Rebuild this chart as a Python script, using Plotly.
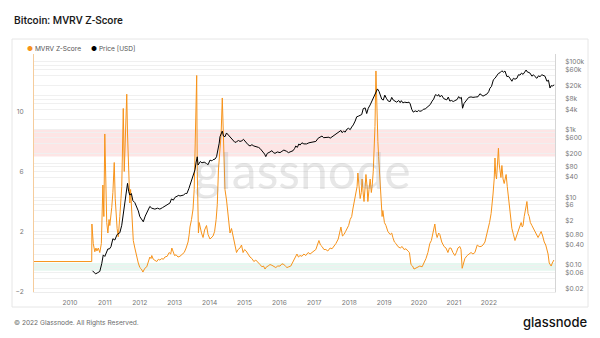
import plotly.graph_objects as go
import pandas as pd

# ---------------- data ----------------
z_points = [
    (2009.04, 0.0), (2010.54, 0.0), (2010.545, 2.5), (2010.58, 1.2), (2010.62, 0.65), (2010.65, 0.9),
    (2010.675, 0.7), (2010.71, 0.9), (2010.75, 0.6), (2010.79, 1.2), (2010.83, 5.1), (2010.855, 3.0),
    (2010.88, 8.5), (2010.905, 4.0), (2010.93, 2.6), (2010.96, 1.9), (2010.99, 2.8), (2011.01, 2.4),
    (2011.04, 3.0), (2011.06, 3.6), (2011.09, 4.6), (2011.125, 6.6), (2011.15, 4.2), (2011.17, 3.3),
    (2011.20, 2.2), (2011.23, 1.65), (2011.25, 2.2), (2011.27, 3.0), (2011.30, 4.2), (2011.32, 5.0),
    (2011.34, 7.5), (2011.36, 10.2), (2011.385, 6.0), (2011.41, 8.0), (2011.45, 11.15), (2011.47, 8.5),
    (2011.49, 6.5), (2011.51, 4.5), (2011.53, 3.9), (2011.55, 4.8), (2011.57, 3.8), (2011.60, 2.2),
    (2011.62, 1.4), (2011.66, 0.9), (2011.71, 0.3), (2011.75, -0.1), (2011.79, -0.4), (2011.83, -0.5),
    (2011.87, -0.7), (2011.92, -0.45), (2011.97, -0.35), (2012.01, 0.0), (2012.05, 0.3), (2012.08, 0.2),
    (2012.10, 0.4), (2012.14, 0.15), (2012.19, 0.05), (2012.23, 0.0), (2012.27, 0.15), (2012.31, 0.1),
    (2012.36, 0.2), (2012.40, 0.15), (2012.44, 0.3), (2012.50, 0.35), (2012.55, 0.6), (2012.59, 0.5),
    (2012.62, 0.9), (2012.65, 0.7), (2012.69, 0.4), (2012.73, 0.45), (2012.78, 0.3), (2012.83, 0.35),
    (2012.88, 0.45), (2012.94, 0.6), (2012.99, 0.9), (2013.04, 1.3), (2013.07, 1.8), (2013.09, 2.3),
    (2013.13, 2.8), (2013.17, 3.5), (2013.20, 4.8), (2013.22, 6.8), (2013.245, 9.0), (2013.265, 12.4),
    (2013.28, 6.0), (2013.31, 1.9), (2013.33, 2.6), (2013.35, 2.3), (2013.39, 1.9), (2013.43, 1.6),
    (2013.47, 2.1), (2013.52, 2.4), (2013.56, 1.8), (2013.61, 1.5), (2013.65, 1.6), (2013.69, 1.7),
    (2013.73, 2.0), (2013.77, 2.8), (2013.80, 3.8), (2013.83, 6.1), (2013.87, 7.5), (2013.90, 8.5),
    (2013.93, 10.9), (2013.95, 8.5), (2013.97, 6.8), (2014.00, 4.8), (2014.04, 4.1), (2014.08, 3.0),
    (2014.13, 1.9), (2014.17, 2.2), (2014.22, 1.6), (2014.26, 1.0), (2014.30, 0.6), (2014.34, 0.8),
    (2014.39, 0.9), (2014.43, 1.1), (2014.47, 0.6), (2014.51, 0.8), (2014.55, 0.7), (2014.60, 0.5),
    (2014.65, 0.3), (2014.70, 0.2), (2014.75, 0.0), (2014.80, 0.1), (2014.86, -0.1), (2014.91, -0.2),
    (2014.96, -0.35), (2015.00, -0.3), (2015.04, -0.5), (2015.08, -0.35), (2015.12, -0.3), (2015.17, -0.2),
    (2015.22, -0.25), (2015.27, -0.35), (2015.32, -0.4), (2015.37, -0.3), (2015.43, -0.3), (2015.48, -0.15),
    (2015.53, -0.2), (2015.57, -0.3), (2015.61, -0.4), (2015.66, -0.35), (2015.71, -0.3), (2015.75, -0.1),
    (2015.79, 0.1), (2015.84, 0.3), (2015.87, 0.5), (2015.91, 0.3), (2015.95, 0.4), (2016.00, 0.35),
    (2016.05, 0.5), (2016.10, 0.4), (2016.16, 0.6), (2016.21, 0.5), (2016.26, 0.6), (2016.31, 0.7),
    (2016.36, 0.8), (2016.40, 1.1), (2016.44, 1.4), (2016.48, 1.1), (2016.52, 1.0), (2016.57, 0.8),
    (2016.62, 0.8), (2016.67, 0.7), (2016.73, 0.9), (2016.78, 0.85), (2016.83, 1.0), (2016.88, 1.2),
    (2016.94, 1.5), (2016.98, 1.9), (2017.01, 2.3), (2017.05, 1.7), (2017.09, 1.8), (2017.13, 2.0),
    (2017.17, 2.2), (2017.21, 2.4), (2017.25, 2.8), (2017.29, 3.0), (2017.32, 3.5), (2017.36, 4.0),
    (2017.40, 4.5), (2017.43, 5.0), (2017.45, 5.9), (2017.48, 4.8), (2017.51, 4.2), (2017.54, 4.6),
    (2017.56, 5.5), (2017.59, 4.5), (2017.61, 4.0), (2017.64, 5.0), (2017.66, 5.8), (2017.69, 5.0),
    (2017.71, 4.0), (2017.74, 4.8), (2017.77, 5.5), (2017.80, 4.6), (2017.82, 5.0), (2017.85, 6.0),
    (2017.87, 7.0), (2017.895, 9.0), (2017.92, 12.7), (2017.945, 9.5), (2017.97, 8.0), (2017.99, 7.0),
    (2018.01, 6.0), (2018.03, 5.0), (2018.05, 4.0), (2018.08, 3.0), (2018.10, 3.4), (2018.14, 2.6),
    (2018.18, 2.4), (2018.23, 2.0), (2018.29, 1.8), (2018.33, 1.9), (2018.36, 1.6), (2018.40, 1.3),
    (2018.44, 1.2), (2018.49, 1.0), (2018.55, 0.9), (2018.60, 1.0), (2018.65, 0.8), (2018.70, 0.85),
    (2018.75, 0.7), (2018.79, 0.6), (2018.83, -0.2), (2018.87, -0.3), (2018.91, -0.5), (2018.96, -0.45),
    (2019.01, -0.4), (2019.06, -0.3), (2019.12, -0.35), (2019.17, -0.1), (2019.22, 0.2), (2019.27, 0.6),
    (2019.32, 1.2), (2019.36, 1.4), (2019.40, 1.8), (2019.43, 2.2), (2019.45, 2.5), (2019.48, 1.9),
    (2019.51, 1.6), (2019.55, 1.9), (2019.58, 1.8), (2019.63, 1.3), (2019.69, 1.0), (2019.74, 0.9),
    (2019.79, 0.6), (2019.83, 0.9), (2019.87, 0.9), (2019.92, 0.6), (2019.97, 0.4), (2020.01, 0.6),
    (2020.05, 0.9), (2020.10, 1.0), (2020.13, 0.8), (2020.16, -0.45), (2020.19, -0.1), (2020.23, 0.2),
    (2020.29, 0.4), (2020.34, 0.5), (2020.39, 0.6), (2020.44, 0.5), (2020.49, 0.6), (2020.55, 1.1),
    (2020.60, 1.0), (2020.65, 1.0), (2020.70, 1.1), (2020.75, 1.3), (2020.79, 1.7), (2020.83, 2.2),
    (2020.87, 2.6), (2020.91, 3.2), (2020.94, 3.8), (2020.96, 4.5), (2020.99, 5.5), (2021.01, 6.9),
    (2021.03, 5.8), (2021.05, 5.5), (2021.075, 6.5), (2021.10, 7.55), (2021.12, 6.5), (2021.14, 6.2),
    (2021.165, 5.6), (2021.19, 6.4), (2021.22, 5.5), (2021.25, 5.2), (2021.28, 5.6), (2021.30, 5.8),
    (2021.33, 5.0), (2021.35, 4.5), (2021.38, 3.5), (2021.40, 3.0), (2021.43, 2.5), (2021.45, 2.2),
    (2021.49, 1.8), (2021.53, 1.4), (2021.57, 1.7), (2021.61, 2.0), (2021.65, 2.3), (2021.69, 2.6),
    (2021.72, 2.3), (2021.74, 2.4), (2021.77, 3.0), (2021.79, 3.4), (2021.82, 3.7), (2021.84, 4.0),
    (2021.87, 3.2), (2021.90, 3.0), (2021.93, 2.6), (2021.97, 2.4), (2022.01, 2.2), (2022.05, 2.0),
    (2022.09, 1.7), (2022.13, 1.6), (2022.17, 1.8), (2022.21, 2.0), (2022.25, 1.7), (2022.29, 1.3),
    (2022.33, 1.1), (2022.36, 0.8), (2022.39, 0.5), (2022.42, -0.1), (2022.45, -0.2), (2022.47, -0.3),
    (2022.50, -0.1), (2022.54, 0.1),
]

price_points = [
    (2010.56, 0.068), (2010.60, 0.06), (2010.64, 0.055), (2010.70, 0.06), (2010.75, 0.065), (2010.80, 0.11),
    (2010.84, 0.2), (2010.88, 0.18), (2010.92, 0.25), (2010.96, 0.3), (2011.00, 0.3), (2011.04, 0.35),
    (2011.09, 0.6), (2011.14, 0.55), (2011.20, 0.8), (2011.27, 0.9), (2011.32, 1.5), (2011.36, 3.5),
    (2011.40, 7), (2011.45, 21), (2011.47, 26), (2011.50, 15), (2011.53, 11.7), (2011.57, 13),
    (2011.61, 8), (2011.66, 7), (2011.71, 5.4), (2011.75, 4), (2011.79, 2.7), (2011.84, 2.2),
    (2011.88, 1.9), (2011.93, 2.8), (2011.97, 3.4), (2012.01, 4.5), (2012.05, 5.4), (2012.10, 4.8),
    (2012.18, 4.5), (2012.25, 4.8), (2012.31, 4.5), (2012.38, 5), (2012.44, 5.5), (2012.51, 6.2),
    (2012.57, 6.8), (2012.61, 9), (2012.66, 8.3), (2012.70, 10), (2012.75, 10.5), (2012.80, 11.5),
    (2012.83, 11), (2012.88, 11.5), (2012.92, 11.7), (2012.97, 13), (2013.01, 13), (2013.06, 18),
    (2013.10, 24), (2013.13, 32), (2013.18, 45), (2013.22, 65), (2013.25, 110), (2013.28, 158),
    (2013.30, 90), (2013.33, 100), (2013.36, 115), (2013.40, 105), (2013.46, 110), (2013.52, 100),
    (2013.56, 92), (2013.61, 126), (2013.66, 120), (2013.69, 130), (2013.74, 135), (2013.78, 158),
    (2013.82, 250), (2013.85, 400), (2013.87, 620), (2013.93, 910), (2013.96, 650), (2014.00, 620),
    (2014.04, 800), (2014.09, 700), (2014.14, 600), (2014.18, 520), (2014.22, 500), (2014.26, 420),
    (2014.30, 440), (2014.35, 480), (2014.39, 450), (2014.44, 470), (2014.48, 520), (2014.52, 450),
    (2014.56, 400), (2014.60, 360), (2014.65, 330), (2014.70, 360), (2014.75, 330), (2014.82, 320),
    (2014.87, 300), (2014.91, 280), (2014.95, 250), (2014.99, 220), (2015.03, 190), (2015.06, 160),
    (2015.10, 200), (2015.17, 220), (2015.22, 240), (2015.26, 210), (2015.30, 200), (2015.36, 220),
    (2015.43, 210), (2015.48, 230), (2015.53, 250), (2015.60, 230), (2015.65, 210), (2015.69, 220),
    (2015.73, 230), (2015.77, 240), (2015.81, 280), (2015.84, 330), (2015.88, 300), (2015.92, 380),
    (2015.95, 350), (2016.00, 410), (2016.05, 380), (2016.12, 380), (2016.18, 410), (2016.24, 420),
    (2016.29, 420), (2016.36, 450), (2016.42, 560), (2016.47, 620), (2016.52, 650), (2016.56, 580),
    (2016.64, 580), (2016.70, 600), (2016.73, 560), (2016.78, 620), (2016.85, 700), (2016.90, 750),
    (2016.96, 900), (2017.01, 950), (2017.04, 820), (2017.08, 900), (2017.12, 850), (2017.17, 1050),
    (2017.21, 1100), (2017.25, 1000), (2017.29, 1200), (2017.33, 1380), (2017.38, 1800), (2017.42, 2400),
    (2017.46, 2500), (2017.51, 2600), (2017.55, 2800), (2017.59, 4200), (2017.64, 4400), (2017.68, 3000),
    (2017.72, 4300), (2017.77, 5400), (2017.82, 7000), (2017.86, 8600), (2017.90, 11000), (2017.95, 14900),
    (2017.96, 16000), (2018.00, 13500), (2018.03, 10700), (2018.07, 8000), (2018.11, 7500), (2018.15, 10500),
    (2018.19, 8500), (2018.24, 7000), (2018.29, 6800), (2018.33, 9000), (2018.37, 7500), (2018.42, 7000),
    (2018.46, 6500), (2018.51, 7300), (2018.55, 6300), (2018.58, 7200), (2018.62, 6200), (2018.67, 6500),
    (2018.73, 6300), (2018.78, 6500), (2018.81, 5800), (2018.85, 4000), (2018.89, 3300), (2018.94, 3600),
    (2018.99, 3400), (2019.03, 3700), (2019.06, 3500), (2019.11, 3600), (2019.15, 4000), (2019.20, 4100),
    (2019.28, 4800), (2019.33, 5500), (2019.38, 7000), (2019.42, 8000), (2019.46, 10500), (2019.48, 11000),
    (2019.52, 9800), (2019.55, 11000), (2019.58, 9400), (2019.63, 10300), (2019.68, 8300), (2019.73, 8000),
    (2019.76, 7600), (2019.80, 9200), (2019.84, 7000), (2019.88, 7300), (2019.93, 6800), (2019.97, 7200),
    (2020.03, 7800), (2020.07, 9500), (2020.10, 8400), (2020.14, 9000), (2020.17, 4300), (2020.21, 6000),
    (2020.25, 6800), (2020.28, 7500), (2020.33, 9000), (2020.39, 9300), (2020.44, 9000), (2020.50, 9200),
    (2020.57, 9400), (2020.62, 11500), (2020.66, 10500), (2020.70, 9800), (2020.75, 10500), (2020.81, 11500),
    (2020.85, 13500), (2020.88, 16800), (2020.92, 19000), (2020.95, 24000), (2020.97, 30000), (2021.01, 33000),
    (2021.05, 38000), (2021.10, 46000), (2021.14, 48000), (2021.19, 55000), (2021.23, 50000), (2021.27, 54000),
    (2021.32, 37000), (2021.36, 38000), (2021.40, 33000), (2021.45, 27000), (2021.49, 33000), (2021.53, 31000),
    (2021.58, 33000), (2021.62, 42000), (2021.66, 41000), (2021.70, 47000), (2021.74, 43000), (2021.79, 54000),
    (2021.82, 58000), (2021.84, 52000), (2021.88, 49000), (2021.92, 47000), (2021.97, 38000), (2022.01, 42000),
    (2022.05, 37000), (2022.10, 33000), (2022.14, 39000), (2022.18, 37000), (2022.23, 42000), (2022.27, 40000),
    (2022.31, 38000), (2022.36, 27000), (2022.40, 29000), (2022.44, 17000), (2022.47, 20000), (2022.50, 19500),
    (2022.55, 21000),
]

# price axis: gridlines at every 1-2-4-6-8 step, labels only where the picture shows them
price_grid_values = [0.02, 0.04, 0.06, 0.08, 0.1, 0.2, 0.4, 0.6, 0.8, 1, 2, 4, 6, 8, 10, 20, 40, 60, 80,
                     100, 200, 400, 600, 800, 1000, 2000, 4000, 6000, 8000, 10000, 20000, 40000, 60000,
                     80000, 100000]
price_grid_labels = ["$0.02", "", "$0.06", "", "$0.10", "", "$0.40", "", "$0.80", "", "$2", "", "$6", "",
                     "$10", "", "$40", "", "$80", "", "$200", "", "$600", "", "$1k", "", "$4k", "",
                     "$8k", "", "$20k", "", "$60k", "", "$100k"]
z_tick_values = [-2, 2, 6, 10]
year_labels = ["2010", "2011", "2012", "2013", "2014", "2015", "2016", "2017", "2018", "2019",
               "2020", "2021", "2022"]
# where each year label sits on the time axis in the picture (decimal years)
year_label_pos = [2009.974, 2010.880, 2011.787, 2012.693, 2013.600, 2014.506, 2015.413,
                  2016.319, 2017.226, 2018.132, 2019.039, 2019.945, 2020.852]
x_range_years = [2009.04, 2022.57]
red_band = [7.0, 8.8]
green_band = [-0.62, -0.1]


def yr2date(y):
    year = int(y)
    start = pd.Timestamp(year, 1, 1)
    end = pd.Timestamp(year + 1, 1, 1)
    return start + (end - start) * (y - year)


z_dates = [yr2date(t) for t, _ in z_points]
z_values = [v for _, v in z_points]
price_dates = [yr2date(t) for t, _ in price_points]
price_values = [v for _, v in price_points]
tick_dates = [yr2date(v) for v in year_label_pos]
x_range = [yr2date(v) for v in x_range_years]

W, H = 600, 338
L, R, T, B = 34, 45, 54, 46
PW, PH = W - L - R, H - T - B


def px(x):
    return (x - L) / PW


def py(y):
    return (H - B - y) / PH


ORANGE = "#f7931a"
FONT = "Inter, Roboto, sans-serif"

fig = go.Figure()
fig.add_trace(go.Scatter(x=z_dates, y=z_values, mode="lines", name="MVRV Z-Score",
                         line=dict(color=ORANGE, width=1), yaxis="y"))
fig.add_trace(go.Scatter(x=price_dates, y=price_values, mode="lines", name="Price [USD]",
                         line=dict(color="#000000", width=1), yaxis="y2"))

shapes = [
    dict(type="rect", xref="paper", yref="paper", x0=px(12), x1=px(588), y0=py(307), y1=py(39),
         line=dict(color="#e6e6e6", width=1), fillcolor="rgba(0,0,0,0)", layer="below"),
    dict(type="rect", xref="paper", yref="y", x0=0, x1=1, y0=red_band[0], y1=red_band[1],
         line=dict(width=0), fillcolor="rgba(240,80,80,0.15)", layer="below"),
    dict(type="rect", xref="paper", yref="y", x0=0, x1=1, y0=green_band[0], y1=green_band[1],
         line=dict(width=0), fillcolor="rgba(80,200,150,0.15)", layer="below"),
]

annotations = [
    dict(text="Bitcoin: MVRV Z-Score", xref="paper", yref="paper", x=px(11.5), y=py(20),
         xanchor="left", yanchor="middle", showarrow=False,
         font=dict(family="Roboto, sans-serif", size=10.7, color="#1a1a1a", weight=500)),
    dict(text="<span style='color:%s'>●</span> MVRV Z-Score" % ORANGE, xref="paper", yref="paper",
         x=px(25), y=py(49), xanchor="left", yanchor="middle", showarrow=False,
         font=dict(family=FONT, size=6.6, color="#555")),
    dict(text="<span style='color:#000'>●</span> Price [USD]", xref="paper", yref="paper",
         x=px(88.5), y=py(49), xanchor="left", yanchor="middle", showarrow=False,
         font=dict(family=FONT, size=6.6, color="#555")),
    dict(text="glassnode", xref="paper", yref="paper", x=px(302), y=py(170),
         xanchor="center", yanchor="middle", showarrow=False,
         font=dict(family="Lato, sans-serif", size=50, color="rgba(140,140,140,0.21)")),
    dict(text="© 2022 Glassnode. All Rights Reserved.", xref="paper", yref="paper",
         x=px(11.5), y=py(323), xanchor="left", yanchor="middle", showarrow=False,
         font=dict(family=FONT, size=6.6, color="#6a6a6a")),
    dict(text="glassnode", xref="paper", yref="paper", x=px(588.5), y=py(321.5),
         xanchor="right", yanchor="middle", showarrow=False,
         font=dict(family=FONT, size=13, color="#111", weight=500)),
]

fig.update_layout(
    width=W, height=H,
    margin=dict(l=L, r=R, t=T, b=B),
    paper_bgcolor="white", plot_bgcolor="white",
    showlegend=False,
    shapes=shapes, annotations=annotations,
    xaxis=dict(type="date", range=x_range, tickvals=tick_dates, ticktext=year_labels,
               showgrid=False, showline=True, linecolor="#ececec", linewidth=1,
               ticks="", ticklabelstandoff=4,
               tickfont=dict(family=FONT, size=6.6, color="#777"), zeroline=False),
    yaxis=dict(range=[-2.03, 13.83], tickvals=z_tick_values, showgrid=False,
               zeroline=False,
               showline=True, linecolor="#f5cc9c", linewidth=1, ticks="",
               ticklabelstandoff=8,
               tickfont=dict(family=FONT, size=6.6, color="#777")),
    yaxis2=dict(type="log", range=[-1.795, 5.236], overlaying="y", side="right",
                tickvals=price_grid_values, ticktext=price_grid_labels,
                showgrid=True, gridcolor="#f0f0f0", gridwidth=1, zeroline=False,
                showline=True, linecolor="#d5d5d5", linewidth=1, ticks="",
                ticklabelstandoff=8,
                tickfont=dict(family=FONT, size=6.6, color="#777")),
)

fig.write_html("out.html")
